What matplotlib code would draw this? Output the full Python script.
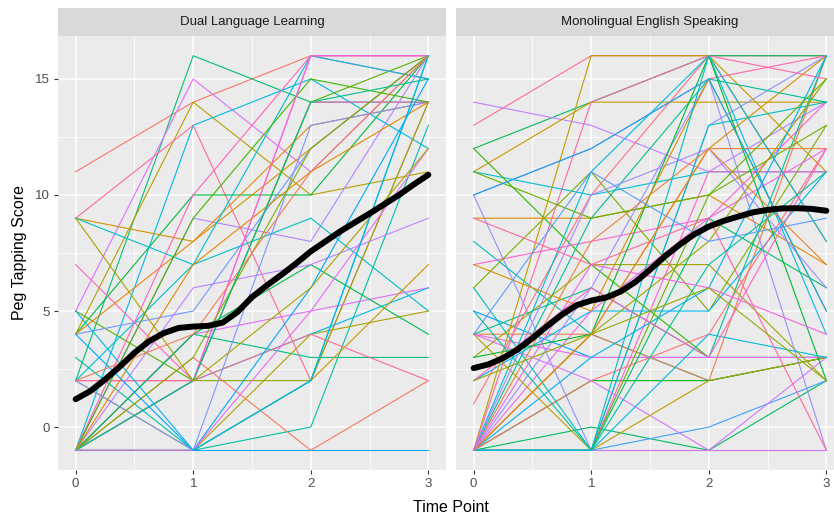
import numpy as np
import matplotlib as mpl
from matplotlib import pyplot as plt

mpl.rcParams.update({"font.family": ["Liberation Sans", "DejaVu Sans"]})

time_points = [0, 1, 2, 3]
panel_titles = ["Dual Language Learning", "Monolingual English Speaking"]

# peg tapping scores per child at time points 0..3
dual_scores = [
    [11, 14, 16, 16], [2, 16, 14, 14], [5, 15, 11, 16], [4, 14, 10, 11],
    [-1, 13, 15, 12], [9, 13, 2, 14], [4, 10, 10, 16], [-1, 9, 8, 16],
    [9, 8, 12, 16], [9, 7, 9, 5], [7, 2, 14, 14], [5, 2, 14, 16],
    [4, 5, 12, 16], [4, 8, 13, 14], [3, -1, 0, 13], [2, 2, 16, 15],
    [-1, 2, 2, 14], [-1, -1, -1, -1], [-1, 3, -1, 2], [-1, 4, 3, 3],
    [-1, 4, 5, 6], [2, -1, 4, 5], [-1, 2, 4, 6], [2, 2, 4, 2],
    [-1, 4, 7, 4], [-1, 6, 7, 9], [-1, -1, 2, 7], [2, 7, 16, 15],
    [-1, 10, 16, 16], [-1, 9, 15, 14], [2, -1, 13, 14], [-1, 7, 11, 14],
    [-1, -1, 2, 16], [-1, 2, 16, 16], [-1, 3, 12, 16], [4, -1, 6, 15],
    [2, 4, 11, 16], [-1, 2, 14, 15], [-1, -1, 5, 12], [9, 2, 6, 12],
    [5, -1, 2, 16],
]
mono_scores = [
    [13, 16, 16, 16], [12, 14, 16, 16], [14, 13, 11, 14], [11, 14, 14, 14],
    [11, 10, 11, 11], [10, 12, 15, 16], [12, 7, 3, 3], [10, -1, 13, 16],
    [9, 9, 10, 7], [8, 4, 2, 3], [7, 8, 9, 14], [6, 11, 5, 13],
    [5, 3, 3, 3], [4, 4, 2, 16], [4, 6, 3, 16], [4, 3, 3, 3],
    [3, 7, 7, 2], [2, 5, 5, 11], [1, 10, 16, 8], [-1, 0, -1, 2],
    [-1, -1, -1, -1], [-1, 16, 16, 11], [-1, 11, 16, 4], [-1, 14, 16, 15],
    [-1, 2, 2, 3], [-1, 6, 15, -1], [-1, 4, 12, 16], [-1, -1, 13, 14],
    [-1, -1, 11, 11], [-1, -1, 10, 13], [-1, -1, 0, 2], [-1, 8, 12, 12],
    [-1, 9, 15, 14], [-1, 5, 9, 12], [-1, 4, 8, 15], [-1, 3, 6, 16],
    [-1, 2, 4, 12], [-1, -1, 9, 6], [4, 2, -1, 3], [4, -1, 2, 3],
    [-1, -1, 4, 3], [9, 7, 9, -1], [3, 4, 16, 2], [-1, 10, 12, 6],
    [7, 5, 15, 5], [6, -1, 16, 8], [2, 6, 3, 12], [11, 9, 10, 15],
    [4, 11, 8, 9], [-1, 4, 12, 7], [5, -1, 7, 11], [-1, 7, 6, 4],
    [2, 4, 6, 2], [10, 12, 15, 5],
]

# smoothed trend
smooth_x = [0, 0.125, 0.25, 0.375, 0.5, 0.625, 0.75, 0.875, 1, 1.125, 1.25,
            1.375, 1.5, 1.625, 1.75, 1.875, 2, 2.125, 2.25, 2.375, 2.5,
            2.625, 2.75, 2.875, 3]
dual_smooth = [1.2, 1.55, 2.05, 2.6, 3.2, 3.7, 4.05, 4.27, 4.33, 4.36, 4.5,
               4.95, 5.6, 6.1, 6.56, 7.05, 7.57, 8.0, 8.43, 8.82, 9.2,
               9.6, 10.0, 10.45, 10.87]
mono_smooth = [2.54, 2.7, 2.97, 3.35, 3.83, 4.35, 4.84, 5.25, 5.45, 5.58, 5.84,
               6.25, 6.78, 7.35, 7.85, 8.3, 8.64, 8.88, 9.07, 9.25, 9.36,
               9.42, 9.43, 9.4, 9.32]


def hcl_to_rgb(h, c=100, l=65):
    # polar LUV -> sRGB (same as R's hcl())
    xn, yn, zn = 95.047, 100.0, 108.883
    un = 4 * xn / (xn + 15 * yn + 3 * zn)
    vn = 9 * yn / (xn + 15 * yn + 3 * zn)
    u = c * np.cos(np.radians(h))
    v = c * np.sin(np.radians(h))
    Y = yn * ((l + 16) / 116) ** 3
    up = u / (13 * l) + un
    vp = v / (13 * l) + vn
    X = Y * 9 * up / (4 * vp)
    Z = Y * (12 - 3 * up - 20 * vp) / (4 * vp)
    xyz = np.array([X, Y, Z]) / 100
    m = np.array([[3.2406, -1.5372, -0.4986],
                  [-0.9689, 1.8758, 0.0415],
                  [0.0557, -0.2040, 1.0570]])
    lin = m @ xyz
    rgb = np.where(lin <= 0.0031308, 12.92 * lin, 1.055 * np.power(np.clip(lin, 0, None), 1 / 2.4) - 0.055)
    return tuple(np.clip(rgb, 0, 1))


n_total = len(dual_scores) + len(mono_scores)
hues = np.linspace(15, 375, n_total + 1)[:-1]
palette = [hcl_to_rgb(h) for h in hues]

W, H = 834, 515
fig = plt.figure(figsize=(W / 100, H / 100), dpi=100)

panel_left = [58, 456]
panel_w = 388
panel_top, panel_bot = 36, 470
strip_top = 8

subject = 0
for p, (scores, smooth) in enumerate([(dual_scores, dual_smooth), (mono_scores, mono_smooth)]):
    x0 = panel_left[p] / W
    ax = fig.add_axes([x0, 1 - panel_bot / H, panel_w / W, (panel_bot - panel_top) / H])
    ax.set_facecolor('#EBEBEB')
    for s in ax.spines.values():
        s.set_visible(False)
    ax.set_xlim(-0.15, 3.15)
    ax.set_ylim(-1.85, 16.85)
    ax.set_xticks(time_points)
    ax.set_yticks([0, 5, 10, 15])
    ax.set_xticks([0.5, 1.5, 2.5], minor=True)
    ax.set_yticks([2.5, 7.5, 12.5], minor=True)
    ax.grid(which='major', color='white', linewidth=1.1, zorder=0)
    ax.grid(which='minor', color='white', linewidth=0.55, zorder=0)
    ax.set_axisbelow(True)
    ax.tick_params(which='minor', length=0)
    ax.tick_params(which='major', length=3, width=0.8, color='#333333',
                   labelcolor='#4D4D4D', labelsize=9.5, pad=3)
    if p == 1:
        ax.tick_params(axis='y', left=False, labelleft=False)

    for vals in scores:
        col = palette[(subject * 37) % n_total]
        ax.plot(time_points, vals, color=col, linewidth=0.8, zorder=2)
        subject += 1

    ax.plot(smooth_x, smooth, color='black', linewidth=4.3, zorder=3,
            solid_capstyle='round', solid_joinstyle='round')

    # facet strip
    sax = fig.add_axes([x0, 1 - panel_top / H, panel_w / W, (panel_top - strip_top) / H])
    sax.set_facecolor('#D9D9D9')
    sax.set_xticks([])
    sax.set_yticks([])
    for s in sax.spines.values():
        s.set_visible(False)
    sax.text(0.5, 0.5, panel_titles[p], ha='center', va='center',
             fontsize=9.5, color='#1A1A1A', transform=sax.transAxes)

fig.text(20 / W, 1 - 253 / H, 'Peg Tapping Score', rotation=90,
         ha='center', va='center', fontsize=11.5, color='black')
fig.text(451 / W, 1 - 507 / H, 'Time Point', ha='center', va='center',
         fontsize=11.5, color='black')

fig.savefig('out.png', dpi=100)
